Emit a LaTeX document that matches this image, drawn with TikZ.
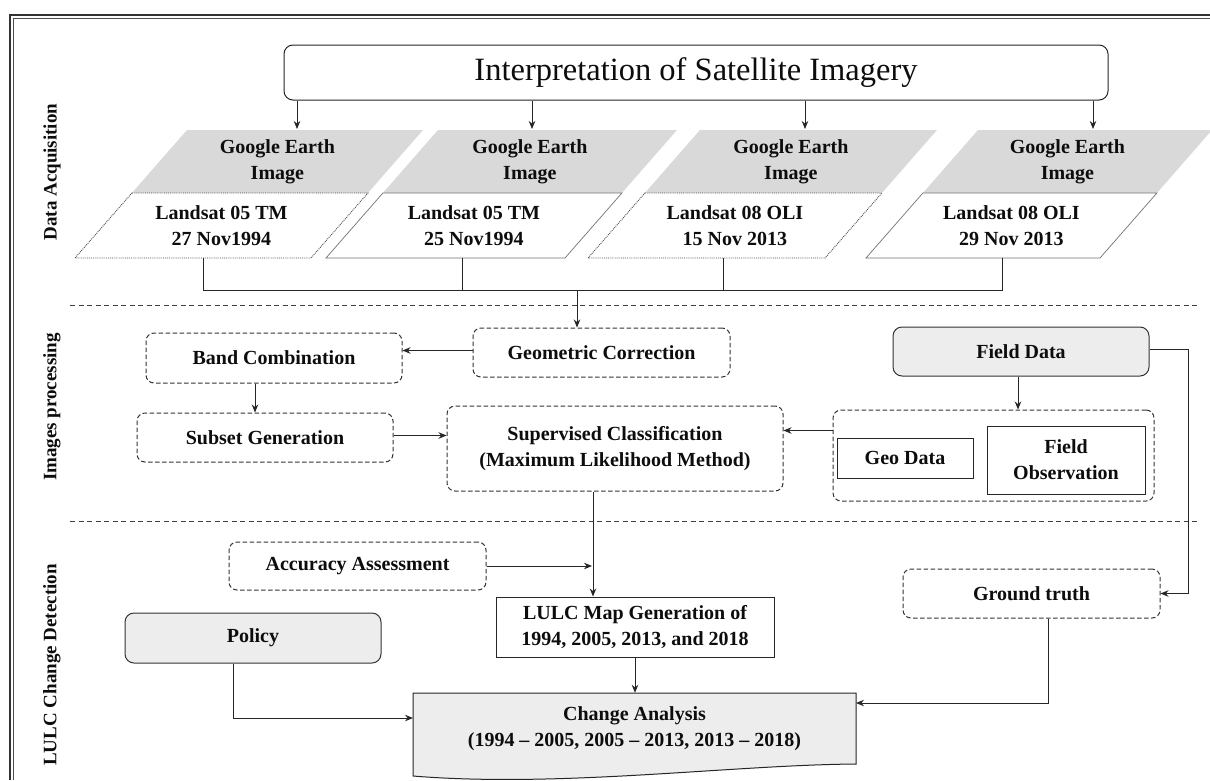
\documentclass[tikz,border=0pt]{standalone}
\usepackage{fontspec}
\setmainfont{Liberation Serif}
\usetikzlibrary{arrows.meta}
\begin{document}
\begin{tikzpicture}[x=1pt,y=-1pt,
  every node/.style={font=\bfseries\fontsize{20}{26}\selectfont, text=black!95, align=center, inner sep=0pt},
  dbox/.style={draw=black!80, dash pattern=on 4.5pt off 2.5pt, rounded corners=8pt, line width=1pt},
  sbox/.style={draw=black!85, line width=1pt},
  gbox/.style={draw=black!80, rounded corners=9pt, fill=black!7, line width=1pt},
  arr/.style={draw=black!85, line width=1pt, -{Stealth[length=8pt,width=6.5pt]}},
  ln/.style={draw=black!85, line width=1pt},
  sep/.style={draw=black!75, line width=0.9pt, dash pattern=on 5pt off 3.5pt},
  wdot/.style={draw=black!70, densely dotted, line width=0.9pt},
  wsol/.style={draw=black!55, line width=0.7pt},
  seclab/.style={rotate=90, font=\bfseries\fontsize{19}{22}\selectfont}]
\useasboundingbox (0,0) rectangle (1210,780);
\fill[white] (0,0) rectangle (1210,780);
% frame
\draw[draw=black!80, line width=2pt] (10,780) -- (10,15) -- (1210,15);
\draw[draw=black!70, line width=0.8pt] (13.5,780) -- (13.5,18.5) -- (1210,18.5);

% section labels
\node[seclab] (lab1) at (52,172) {Data Acquisition};
\node[seclab] (lab2) at (52,407) {Images processing};
\node[seclab] (lab3) at (52,665) {LULC Change Detection};

% separators
\draw[sep] (70,305) -- (1200,305);
\draw[sep] (70,521) -- (1200,521);

% title
\node[draw=black!85, rounded corners=9pt, line width=1pt, minimum width=824pt, minimum height=55pt,
  font=\fontsize{32.5}{36}\selectfont] (title) at (696,72.5) {Interpretation of Satellite Imagery};

% parallelograms
\foreach \i/\xl/\w/\st/\txt in {1/75/236/wdot/{Landsat 05 TM\\27 Nov1994},
                                2/326/239/wsol/{Landsat 05 TM\\25 Nov1994},
                                3/588/237/wdot/{Landsat 08 OLI\\15 Nov 2013},
                                4/866/234/wsol/{Landsat 08 OLI\\29 Nov 2013}}{
  \fill[black!15] (\xl+112,130) -- (\xl+112+\w,130) -- (\xl+56.9+\w,193) -- (\xl+56.9,193) -- cycle;
  \filldraw[fill=white,\st] (\xl+56.9,193) -- (\xl+56.9+\w,193) -- (\xl+\w,258) -- (\xl,258) -- cycle;
  \node (ge\i) at (\xl+84.4+\w/2,161.5) {Google Earth\\Image};
  \node (ls\i) at (\xl+28.4+\w/2,225.5) {\txt};
}

% arrows from title
\coordinate (t1) at (297,129);
\coordinate (t2) at (532,129);
\coordinate (t3) at (805,129);
\coordinate (t4) at (1093,129);
\foreach \t in {t1,t2,t3,t4}{\draw[arr] (title.south -| \t) -- (\t);}

% bus from parallelograms
\coordinate (b1) at (203,258);
\coordinate (b2) at (462,258);
\coordinate (b3) at (723,258);
\coordinate (b4) at (1002,258);
\coordinate (bus) at (577,290);

% image processing nodes
\node[dbox, minimum width=257pt, minimum height=49pt] (geo) at (601.5,352.5) {Geometric Correction};
\node[dbox, minimum width=256pt, minimum height=50pt] (band) at (274,358) {Band Combination};
\node[dbox, minimum width=256pt, minimum height=49pt] (subset) at (265,437.5) {Subset Generation};
\node[dbox, minimum width=336pt, minimum height=85pt] (sup) at (615,448.5) {Supervised Classification\\(Maximum Likelihood Method)};
\node[gbox, minimum width=256pt, minimum height=49pt] (fd) at (1021,351.5) {Field Data};
\node[dbox, minimum width=321pt, minimum height=91pt] (group) at (993.5,455.5) {};
\node[sbox, minimum width=136pt, minimum height=40pt] (geod) at (905,458) {Geo Data};
\node[sbox, minimum width=158pt, minimum height=68pt] (fobs) at (1066,460) {Field\\Observation};

% LULC nodes
\node[dbox, minimum width=257pt, minimum height=48pt] (aa) at (357.5,566) {Accuracy Assessment};
\node[sbox, minimum width=278pt, minimum height=60pt] (lulc) at (635,627) {LULC Map Generation of\\1994, 2005, 2013, and 2018};
\node[gbox, minimum width=256pt, minimum height=50pt] (pol) at (253,638) {Policy};
\node[dbox, minimum width=257pt, minimum height=49pt] (gt) at (1031.5,593.5) {Ground truth};
\filldraw[fill=black!7, draw=black!85, line width=1pt] (413,693) -- (856,693) -- (856,764)
   .. controls (730,765) and (560,788) .. (413,776) -- cycle;
\node[minimum width=443pt, minimum height=72pt] (ca) at (634.5,729) {Change Analysis\\(1994 -- 2005, 2005 -- 2013, 2013 -- 2018)};

% connectors top
\draw[ln] (b1) -- (b1 |- bus) -- (b4 |- bus) -- (b4);
\draw[ln] (b2) -- (b2 |- bus);
\draw[ln] (b3) -- (b3 |- bus);
\draw[arr] (bus) -- (bus |- geo.north);

% image processing connectors
\draw[arr] ([yshift=2pt]geo.west) -- ([yshift=2pt]geo.west -| band.east);
\draw[arr] ([xshift=-19pt]band.south) -- ([xshift=-19pt]band.south |- subset.north);
\draw[arr] ([yshift=2pt]subset.east) -- ([yshift=2pt]subset.east -| sup.west);
\draw[arr] ([yshift=25pt]group.west) -- ([yshift=25pt]group.west -| sup.east);
\draw[arr] ([xshift=-3pt]fd.south) -- ([xshift=-3pt]fd.south |- group.north);
\coordinate (fr) at (1188,349);
\draw[arr] (fd.east |- fr) -- (fr) -- (fr |- gt.east) -- (gt.east);

% LULC connectors
\coordinate (vx) at (593,500);
\draw[arr] (vx |- sup.south) -- (vx |- lulc.north);
\draw[arr] (aa.east) -- ([xshift=-1pt]vx |- aa.east);
\draw[arr] (lulc.south) -- (lulc.south |- ca.north);
\coordinate (px) at (233,718);
\draw[arr] (px |- pol.south) -- (px) -- (413,718);
\coordinate (gx) at (1048,703);
\draw[arr] (gx |- gt.south) -- (gx) -- (856,703);
\end{tikzpicture}
\end{document}
